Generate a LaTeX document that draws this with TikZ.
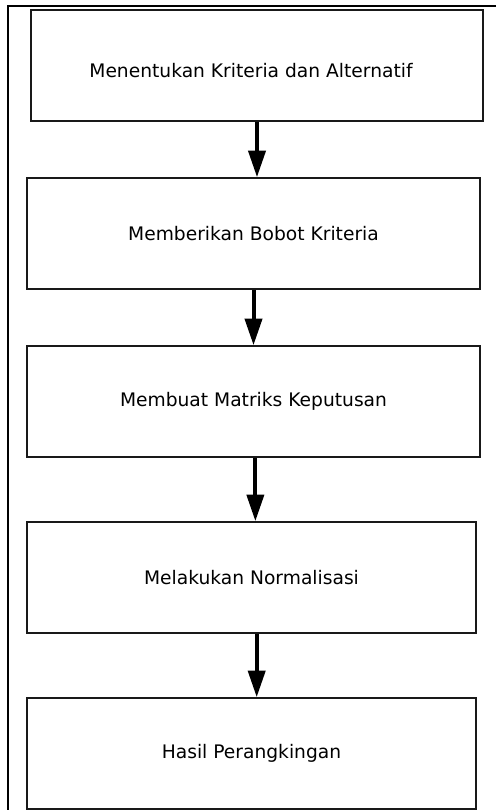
\documentclass[tikz,border=0pt]{standalone}
\usepackage{fontspec}
\setmainfont{DejaVu Sans}
\usetikzlibrary{arrows.meta}
\begin{document}
\begin{tikzpicture}[x=0.75pt,y=-0.75pt,
  stepbox/.style={draw=black!90, line width=1.15pt, inner sep=0pt, font=\fontsize{14}{16}\selectfont, text=black},
  txt/.style={inner sep=0pt, font=\fontsize{14}{16}\selectfont, text=black},
  arr/.style={line width=3pt, -{Triangle[length=20pt,width=12.75pt]}},
  frame/.style={line width=1pt, black}]
\useasboundingbox (0,0) rectangle (496,810);
\fill[white] (0,0) rectangle (496,810);
% outer frame
\coordinate (fr) at (496,6);
\coordinate (ftl) at (8,6);
\coordinate (fbl) at (8,810);
\draw[frame] (fr) -- (ftl) -- (fbl);
% boxes
\node[stepbox, minimum width=452*0.75pt, minimum height=111*0.75pt] (b1) at (257,65.5) {};
\node[txt] (t1) at (251,70.5) {Menentukan Kriteria dan Alternatif};
\node[stepbox, minimum width=453*0.75pt, minimum height=111*0.75pt] (b2) at (253.5,233.5) {Memberikan Bobot Kriteria};
\node[stepbox, minimum width=453*0.75pt, minimum height=111*0.75pt] (b3) at (253.5,401.5) {Membuat Matriks Keputusan};
\node[stepbox, minimum width=449*0.75pt, minimum height=111*0.75pt] (b4) at (251.5,577.5) {Melakukan Normalisasi};
\node[stepbox, minimum width=449*0.75pt, minimum height=111*0.75pt] (b5) at (251.5,753.5) {Hasil Perangkingan};
% arrows
\draw[arr] (b1.south) -- (b2.north -| b1.south);
\draw[arr] (b2.south) -- (b3.north);
\draw[arr] ([xshift=1.4pt]b3.south) -- ([xshift=1.4pt]b3.south |- b4.north);
\draw[arr] ([xshift=3.9pt]b4.south) -- ([xshift=3.9pt]b4.south |- b5.north);
\end{tikzpicture}
\end{document}
